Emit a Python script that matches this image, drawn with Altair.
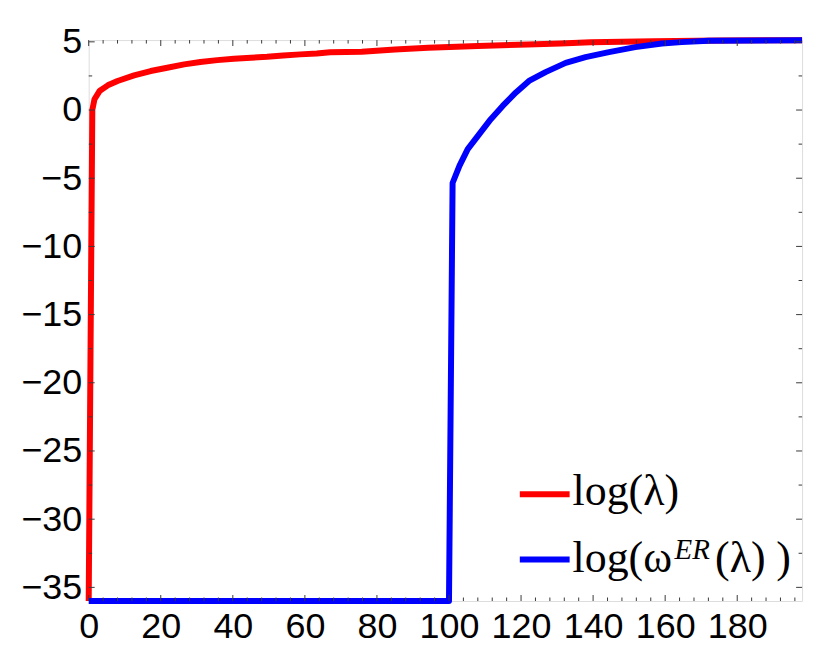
import altair as alt
import pandas as pd

# ---- data ----
red_x = [0, 1, 1.6, 3, 5.3, 8, 12.6, 17.2, 21.8, 26.5, 31, 35.7, 40.3, 45, 49.5, 54, 58.7, 63.3, 67,
         75.8, 85, 94.2, 108, 121.8, 131, 139.3, 156.8, 175, 198]
red_y = [-36, 0.0, 0.79, 1.39, 1.81, 2.13, 2.54, 2.86, 3.10, 3.35, 3.52, 3.66, 3.76, 3.83, 3.90, 4.0,
         4.08, 4.15, 4.23, 4.27, 4.44, 4.56, 4.69, 4.81, 4.88, 4.97, 5.05, 5.1, 5.12]

blue_x = [0, 100, 101, 102.9, 105.2, 108.4, 111.6, 114.9, 118.5, 122.2, 126.8, 132.4, 137.9, 144.4,
          151.7, 159.1, 164.6, 172, 198]
blue_y = [-36, -36, -5.35, -4.09, -2.87, -1.77, -0.67, 0.30, 1.27, 2.13, 2.78, 3.46, 3.88, 4.25,
          4.61, 4.88, 4.98, 5.08, 5.12]

x_major = [0, 20, 40, 60, 80, 100, 120, 140, 160, 180]
x_minor = [4, 8, 12, 16, 24, 28, 32, 36, 44, 48, 52, 56, 64, 68, 72, 76, 84, 88, 92, 96, 104, 108,
           112, 116, 124, 128, 132, 136, 144, 148, 152, 156, 164, 168, 172, 176, 184, 188, 192, 196]
y_major = [5, 0, -5, -10, -15, -20, -25, -30, -35]
y_minor = [2.5, -2.5, -7.5, -12.5, -17.5, -22.5, -27.5, -32.5]

legend_labels = ["log(λ)", "log(ω", "ER", "(λ)", ")"]

W, H = 716, 563
XD = [0, 198]
YD = [-36, 5.13]
TICK = "#3a3a3a"
LABEL_SIZE = 36

xs = alt.Scale(domain=XD, nice=False, zero=False)
ys = alt.Scale(domain=YD, nice=False, zero=False)

x_axis = alt.Axis(values=x_major, ticks=False, tickSize=0, domain=False, grid=False,
                  labelFont="Liberation Sans", labelFontSize=LABEL_SIZE, labelColor="black",
                  labelPadding=9, labelFlush=False, labelOverlap=False, title=None)
y_axis = alt.Axis(values=y_major, ticks=False, tickSize=0, domain=False, grid=False,
                  labelFont="Liberation Sans", labelFontSize=LABEL_SIZE, labelColor="black",
                  labelPadding=7, labelFlush=False, labelOverlap=False, title=None)

red_df = pd.DataFrame({"x": red_x, "y": red_y})
blue_df = pd.DataFrame({"x": blue_x, "y": blue_y})

red = alt.Chart(red_df).mark_line(color="#ff0000", strokeWidth=6, strokeJoin="round").encode(
    x=alt.X("x:Q", scale=xs, axis=x_axis, title=None),
    y=alt.Y("y:Q", scale=ys, axis=y_axis, title=None),
)
blue = alt.Chart(blue_df).mark_line(color="#0000ff", strokeWidth=6, strokeJoin="round").encode(
    x=alt.X("x:Q", scale=xs, axis=x_axis, title=None),
    y=alt.Y("y:Q", scale=ys, axis=y_axis, title=None),
)

def xticks(vals, length):
    df = pd.DataFrame({"x": vals})
    bot = alt.Chart(df).mark_rule(color=TICK, strokeWidth=1).encode(
        x=alt.X("x:Q", scale=xs, axis=x_axis, title=None), y=alt.value(H), y2=alt.value(H - length))
    top = alt.Chart(df).mark_rule(color=TICK, strokeWidth=1).encode(
        x=alt.X("x:Q", scale=xs, axis=x_axis, title=None), y=alt.value(0), y2=alt.value(length))
    return [bot, top]

def yticks(vals, length):
    df = pd.DataFrame({"y": vals})
    left = alt.Chart(df).mark_rule(color=TICK, strokeWidth=1).encode(
        y=alt.Y("y:Q", scale=ys, axis=y_axis, title=None), x=alt.value(0), x2=alt.value(length))
    right = alt.Chart(df).mark_rule(color=TICK, strokeWidth=1).encode(
        y=alt.Y("y:Q", scale=ys, axis=y_axis, title=None), x=alt.value(W), x2=alt.value(W - length))
    return [left, right]

tick_layers = xticks(x_major, 6) + xticks(x_minor, 3.5) + yticks(y_major, 6) + yticks(y_minor, 3.5)

# ---- legend ----
leg_red = alt.Chart(pd.DataFrame({"s": ["a"]})).mark_rule(color="#ff0000", strokeWidth=6).encode(
    x=alt.value(432.7), x2=alt.value(482.7), y=alt.value(455.8))
leg_blue = alt.Chart(pd.DataFrame({"s": ["b"]})).mark_rule(color="#0000ff", strokeWidth=6).encode(
    x=alt.value(432.7), x2=alt.value(482.7), y=alt.value(521.3))

def txt(label, x, y, size, style="normal"):
    return alt.Chart(pd.DataFrame({"t": [label]})).mark_text(
        font="Liberation Serif", fontSize=size, fontStyle=style, align="left",
        baseline="alphabetic", color="black").encode(
        text="t:N", x=alt.value(x), y=alt.value(y))

leg_t1 = txt(legend_labels[0], 485.7, 466.3, 44)
leg_t2 = txt(legend_labels[1], 485.7, 534.3, 44)
leg_t3 = txt(legend_labels[2], 588.0, 521.0, 29, "italic")
leg_t4 = txt(legend_labels[3], 628.7, 534.3, 44)
leg_t5 = txt(legend_labels[4], 690.0, 534.3, 44)

chart = alt.layer(
    red, blue, *tick_layers, leg_red, leg_blue, leg_t1, leg_t2, leg_t3, leg_t4, leg_t5
).properties(
    width=W, height=H,
    autosize=alt.AutoSizeParams(type="none"),
    padding={"left": 81, "top": 31, "right": 20, "bottom": 50},
).configure_view(
    stroke=TICK, strokeWidth=1.2
).configure(background="white")

chart.save("out.html", embed_options={"renderer": "svg", "actions": False})
